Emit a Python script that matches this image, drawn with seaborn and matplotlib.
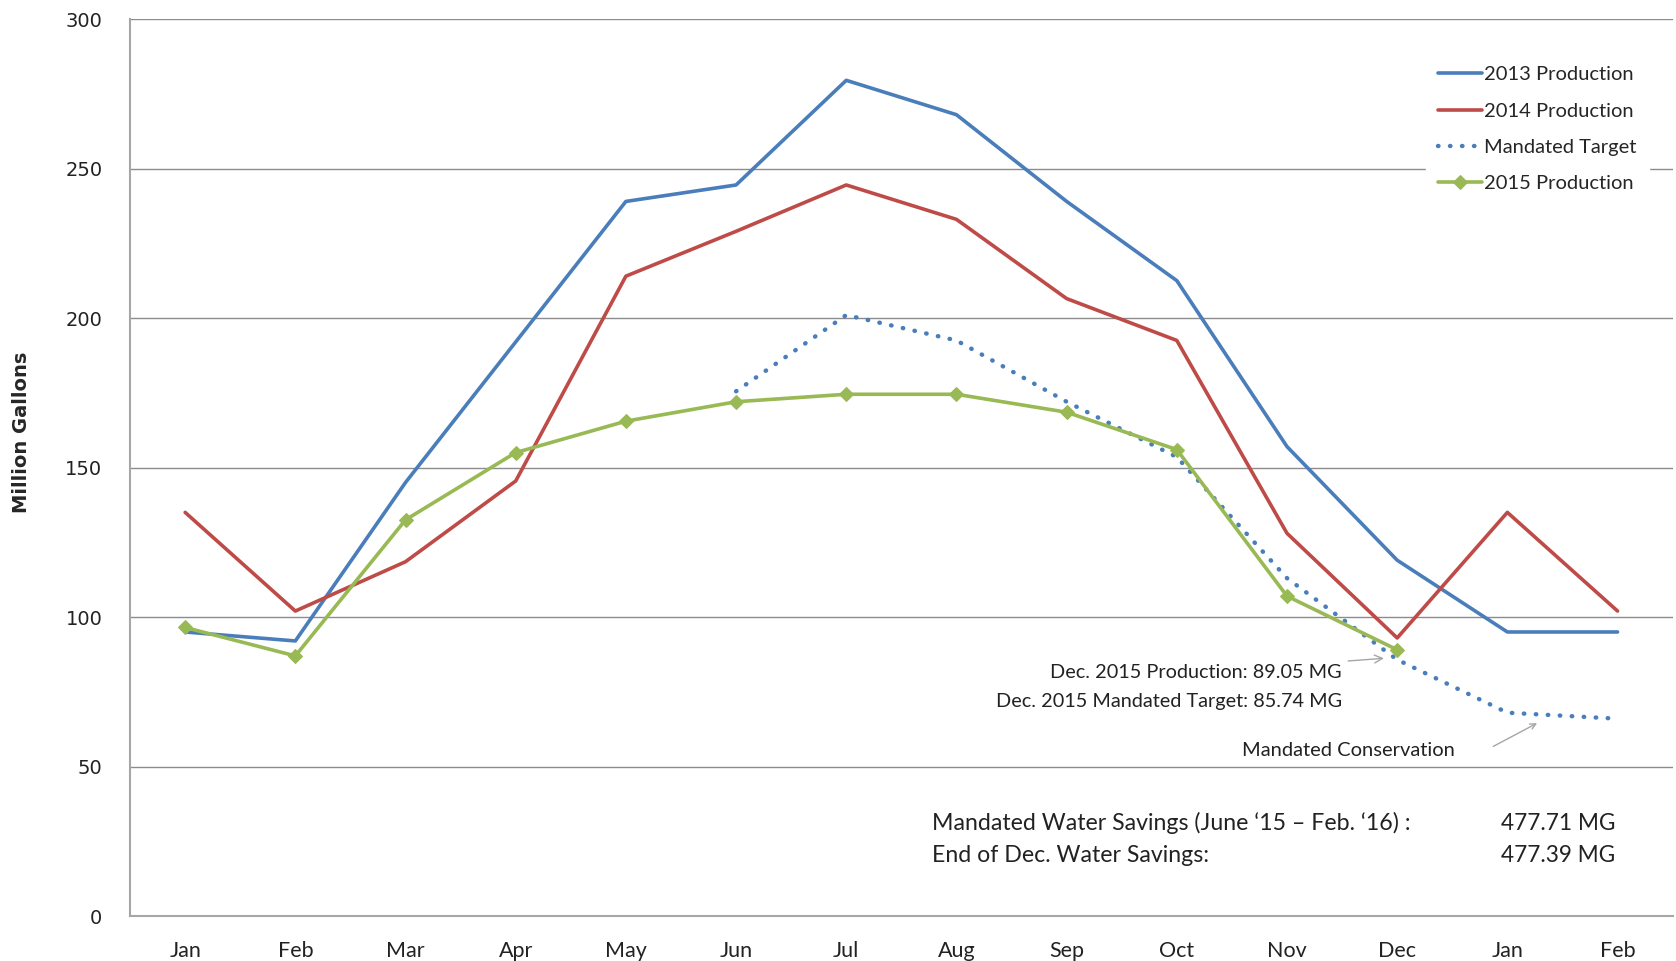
import numpy as np
import pandas as pd
import matplotlib
matplotlib.use("Agg")
import matplotlib.pyplot as plt
import seaborn as sns

# chart data
months = ['Jan', 'Feb', 'Mar', 'Apr', 'May', 'Jun', 'Jul',
          'Aug', 'Sep', 'Oct', 'Nov', 'Dec', 'Jan', 'Feb']
prod_2013 = [95, 92, 145, 192, 239, 244.5, 279.5, 268, 239, 212.5, 157, 119, 95, 95]
prod_2014 = [135, 102, 118.5, 145.5, 214, 229, 244.5, 233, 206.5, 192.5, 128, 93, 135, 102]
mandated = [np.nan, np.nan, np.nan, np.nan, np.nan, 175.5, 201, 192.5, 172, 153.5, 113, 85.74, 68, 66]
prod_2015 = [96.5, 87, 132.5, 155, 165.5, 172, 174.5, 174.5, 168.5, 156, 107, 89.05, np.nan, np.nan]

sns.set_style("white")
plt.rcParams['font.family'] = ['Lato', 'DejaVu Sans']

BLUE = '#4a7ebb'
RED = '#be4b48'
GREEN = '#98b954'
GRID = '#8c8c8c'
TXT = '#222222'

x = np.arange(len(months))
df = pd.DataFrame({'x': x, '2013': prod_2013, '2014': prod_2014,
                   'target': mandated, '2015': prod_2015})

fig = plt.figure(figsize=(16.76, 9.61), dpi=100)
ax = fig.add_axes([0.0776, 0.0468, 0.9204, 0.9334])

sns.lineplot(data=df, x='x', y='2013', ax=ax, color=BLUE, lw=2.6,
             label='2013 Production')
sns.lineplot(data=df, x='x', y='2014', ax=ax, color=RED, lw=2.6,
             label='2014 Production')
sns.lineplot(data=df.dropna(subset=['target']), x='x', y='target', ax=ax,
             color=BLUE, lw=3.2, linestyle=(0, (0.1, 2.6)),
             dash_capstyle='round', label='Mandated Target')
sns.lineplot(data=df.dropna(subset=['2015']), x='x', y='2015', ax=ax,
             color=GREEN, lw=2.6, marker='D', markersize=7,
             markeredgecolor=GREEN, label='2015 Production')

ax.set_xlim(-0.5, len(months) - 0.5)
ax.set_ylim(0, 300)
ax.set_yticks(range(0, 301, 50))
ax.set_xticks(x)
ax.set_xticklabels(months, fontsize=15.5)
ax.set_xticks(np.arange(-0.5, len(months), 1.0), minor=True)
ax.tick_params(axis='x', which='major', length=0, pad=18, colors=TXT)
ax.tick_params(axis='x', which='minor', direction='in', length=7,
               width=1, color='#999999')
ax.tick_params(axis='y', direction='out', length=8, width=1,
               color='#999999', pad=12)
for lab in ax.get_yticklabels():
    lab.set_fontfamily('DejaVu Sans')
    lab.set_fontsize(14)
    lab.set_color(TXT)

ax.grid(axis='y', color=GRID, lw=1)
ax.set_axisbelow(True)
for side in ['top', 'right']:
    ax.spines[side].set_visible(False)
for side in ['left', 'bottom']:
    ax.spines[side].set_color('#a6a6a6')
    ax.spines[side].set_linewidth(1.5)

ax.set_xlabel('')
ax.set_ylabel('Million Gallons', fontsize=14, fontweight='bold',
              family=['Liberation Sans Narrow', 'DejaVu Sans'])
ax.yaxis.set_label_coords(-0.064, 0.539)

leg = ax.legend(loc='upper right', bbox_to_anchor=(0.991, 0.972),
                frameon=True, facecolor='white', edgecolor='white',
                fontsize=14.5, handlelength=2.2, handletextpad=0.1,
                labelspacing=0.95, borderpad=0.6, fancybox=False)
leg.get_frame().set_alpha(1)

arrow = dict(arrowstyle='->', color='#a6a6a6', lw=1, shrinkA=2, shrinkB=0)
ax.annotate('Dec. 2015 Production: 89.05 MG', xy=(10.88, 86.2),
            xytext=(10.5, 81.5), ha='right', va='center', fontsize=14.3,
            color=TXT, arrowprops=arrow)
ax.text(10.5, 71.8, 'Dec. 2015 Mandated Target: 85.74 MG', ha='right',
        va='center', fontsize=14.3, color=TXT)
ax.text(10.56, 55.4, 'Mandated Conservation', ha='center', va='center',
        fontsize=14.5, color=TXT)
ax.annotate('', xy=(12.27, 64.5), xytext=(11.85, 56.3), arrowprops=arrow)

ax.text(6.78, 31.1, 'Mandated Water Savings (June \u201815 \u2013 Feb. \u201816) :',
        ha='left', va='center', fontsize=16.7, color=TXT)
ax.text(12.98, 31.1, '477.71 MG', ha='right', va='center', fontsize=16.3,
        color=TXT)
ax.text(6.78, 20.4, 'End of Dec. Water Savings:', ha='left', va='center',
        fontsize=16.7, color=TXT)
ax.text(12.98, 20.4, '477.39 MG', ha='right', va='center', fontsize=16.3,
        color=TXT)

fig.savefig('out.png', dpi=100)
